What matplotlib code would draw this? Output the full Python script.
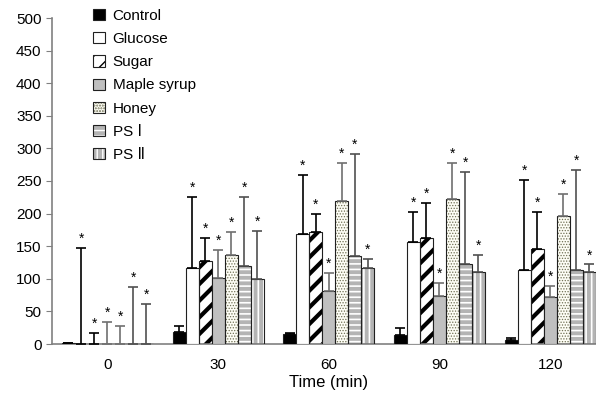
import numpy as np
import matplotlib.pyplot as plt
from matplotlib.legend_handler import HandlerTuple

plt.rcParams['font.family'] = ['Liberation Sans', 'DejaVu Sans']

# Datos
tiempos = ['0', '30', '60', '90', '120']
grupos = ['Control', 'Glucose', 'Sugar', 'Maple syrup', 'Honey', 'PS \u2160', 'PS \u2161']

control = [1, 18, 15, 14, 6]
glucose = [0, 116, 168, 156, 114]
sugar = [0, 128, 172, 163, 145]
maple = [0, 101, 81, 73, 72]
honey = [0, 136, 219, 222, 197]
ps1 = [0, 119, 135, 123, 114]
ps2 = [0, 99, 116, 111, 111]

control_err = [1, 10, 2, 11, 3]
glucose_err = [148, 110, 91, 46, 138]
sugar_err = [17, 35, 28, 54, 57]
maple_err = [34, 43, 28, 20, 17]
honey_err = [28, 36, 59, 56, 33]
ps1_err = [87, 107, 156, 141, 153]
ps2_err = [61, 75, 14, 26, 11]

# asteriscos: True = marcado
control_sig = [False] * 5
otros_sig = [True] * 5

medias = [control, glucose, sugar, maple, honey, ps1, ps2]
errores = [control_err, glucose_err, sugar_err, maple_err, honey_err, ps1_err, ps2_err]
signif = [control_sig] + [otros_sig] * 6

# Estilos de cada serie
caras = ['black', 'white', 'white', '#c0c0c0', '#fdfdf5', '#b4b4b4', '#b4b4b4']
tramas = [None, None, '//', None, '......', '---', '|||']
color_trama = [None, None, 'black', None, '#707055', 'white', 'white']
color_err = ['black', 'black', 'black', '#707070', '#707070', '#505050', '#505050']

fig = plt.figure(figsize=(5.96, 3.95), dpi=100)
ax = fig.add_axes([52 / 596, 51 / 395, 553.5 / 596, 326 / 395])

x = np.arange(len(tiempos))
ancho = 0.1175
handles = []
for i in range(len(grupos)):
    pos = x + (i - 3) * ancho
    if tramas[i] is not None:
        lw_trama = 3.0 if i == 2 else (0.6 if i == 4 else 1.2)
        with plt.rc_context({'hatch.linewidth': lw_trama}):
            capa = ax.bar(pos, medias[i], ancho, color=caras[i], edgecolor=color_trama[i],
                          hatch=tramas[i], linewidth=0, zorder=2)
        borde = ax.bar(pos, medias[i], ancho, fill=False, edgecolor='#202020',
                       linewidth=0.8, zorder=3)
        handles.append((capa, borde))
    else:
        borde = ax.bar(pos, medias[i], ancho, color=caras[i], edgecolor='#202020',
                       linewidth=0.8, zorder=3)
        handles.append(borde)
    # solo barra de error superior
    ax.errorbar(pos, medias[i], yerr=[np.zeros(len(x)), errores[i]], fmt='none',
                ecolor=color_err[i], elinewidth=1.2, capsize=3.5, capthick=1.2, zorder=4)
    for j in range(len(x)):
        if signif[i][j]:
            ax.annotate('*', (pos[j], medias[i][j] + errores[i][j]), xytext=(0, 1.5),
                        textcoords='offset points', ha='center', va='bottom', fontsize=10)

ax.set_xlim(-0.5, 4.5)
ax.set_ylim(0, 500)
ax.set_yticks(np.arange(0, 501, 50))
ax.set_xticks(x)
ax.set_xticklabels(tiempos)
ax.tick_params(axis='x', length=0, labelsize=11, pad=10)
ax.tick_params(axis='y', direction='out', length=4, color='#808080', labelsize=11)
ax.set_xlabel('Time (min)', fontsize=12, labelpad=2)
for lado in ['top', 'right']:
    ax.spines[lado].set_visible(False)
for lado in ['left', 'bottom']:
    ax.spines[lado].set_color('#808080')
    ax.spines[lado].set_linewidth(1.2)

ax.legend(handles, grupos, loc='upper left', bbox_to_anchor=(0.05, 1.07), frameon=False,
          fontsize=11, handlelength=0.75, handleheight=0.75, handletextpad=0.5,
          labelspacing=0.6, handler_map={tuple: HandlerTuple(ndivide=1, pad=0)})

plt.savefig('out.png', dpi=100)
